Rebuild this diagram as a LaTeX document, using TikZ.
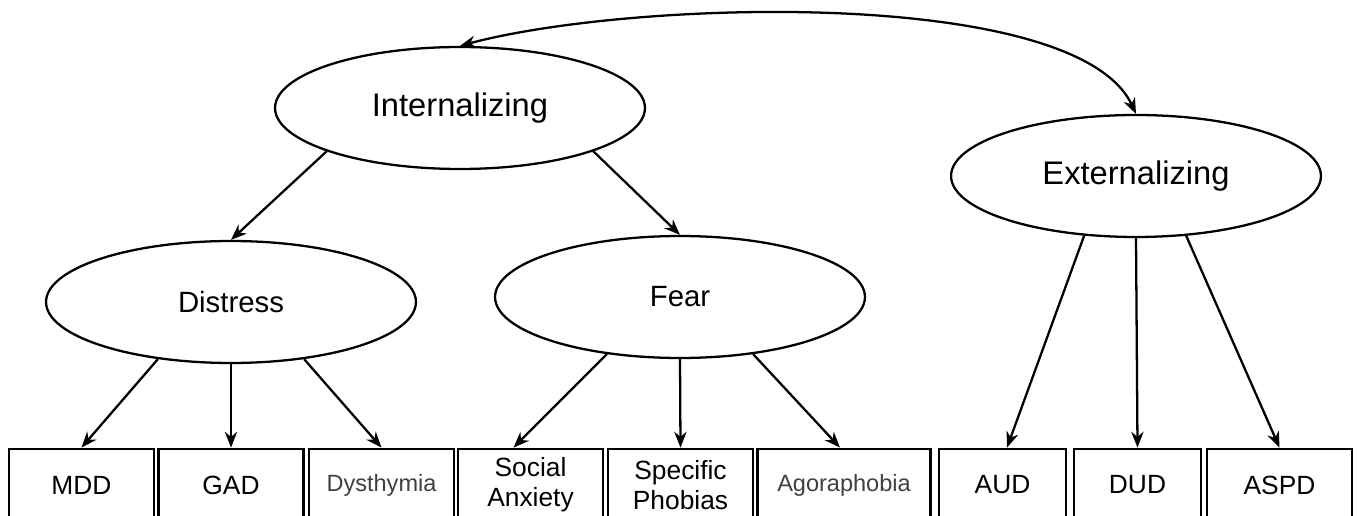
\documentclass[tikz,border=0pt]{standalone}
\usepackage{fontspec}
\setmainfont{Liberation Sans}
\usetikzlibrary{shapes.geometric, arrows.meta}
\tikzset{
    latent/.style={
        ellipse,
        draw=black,
        line width=1.3pt,
        minimum width=7.4cm,
        minimum height=2.44cm,
        inner sep=0pt,
        font=\fontsize{16.7}{20}\selectfont
    },
    observed/.style={
        rectangle,
        draw=black,
        line width=1.6pt,
        minimum width=2.9cm,
        minimum height=1.44cm,
        inner sep=2pt,
        align=center,
        font=\fontsize{15}{17}\selectfont
    },
    light/.style={
        text=black!75,
        font=\fontsize{13.4}{16}\selectfont
    }
}

\begin{document}
\begin{tikzpicture}[x=0.02cm, y=0.02cm]
            % Canvas :
            \useasboundingbox (0,0) rectangle (1358,-516);
            \clip (0,0) rectangle (1358,-516);

            % Spectra
            \node (intern) [
                latent,
                font=\fontsize{18.6}{22}\selectfont,
            ] at (460,-108) {Internalizing};
            \node (extern) [
                latent,
                font=\fontsize{18.6}{22}\selectfont,
            ] at (1136,-176) {Externalizing};
            \node (distress) [
                latent,
            ] at (231,-302) {Distress};
            \node (fear) [
                latent,
            ] at (680,-297) {Fear};

            % Disorders
            \node (mdd) [observed] at (81.5,-485) {MDD};
            \node (gad) [observed] at (231,-485) {GAD};
            \node (dysth) [observed, light] at (381.5,-485) {Dysthymia};
            \node (socAnx) [observed] at (530.5,-485) {Social\\Anxiety};
            \node (specPh) [observed] at (680.5,-485) {Specific\\Phobias};
            \node (agora) [observed, light, minimum width=3.46cm] at (844,-485) {Agoraphobia};
            \node (aud) [observed, minimum width=2.54cm] at (1002.5,-485) {AUD};
            \node (dud) [observed, minimum width=2.54cm] at (1137.5,-485) {DUD};
            \node (aspd) [observed] at (1279.5,-485) {ASPD};

            % Edges
            \path [->, >={Stealth[length=9pt,width=7pt]}, line width=1.3pt]
                % Between the spectra
                (intern.north) edge [<->, out=15, in=115, out distance=3.6cm, in distance=2.8cm] (extern.north)

                % Out of intern
                (intern.198) edge (distress.north)
                (intern.-18) edge (fear.north)

                % Out of distress
                (distress.-142) edge (mdd.north)
                (distress.south) edge (gad.north)
                (distress.-38) edge (dysth.north)

                % Out of fear
                (fear.-142) edge ([xshift=-0.34cm]socAnx.north)
                (fear.south) edge (specPh.north)
                (fear.-38) edge ([xshift=-0.08cm]agora.north)

                % Out of extern
                (extern.-131) edge ([xshift=0.09cm]aud.north)
                (extern.south) edge (dud.north)
                (extern.-50) edge (aspd.north)
            ;
        \end{tikzpicture}
\end{document}
